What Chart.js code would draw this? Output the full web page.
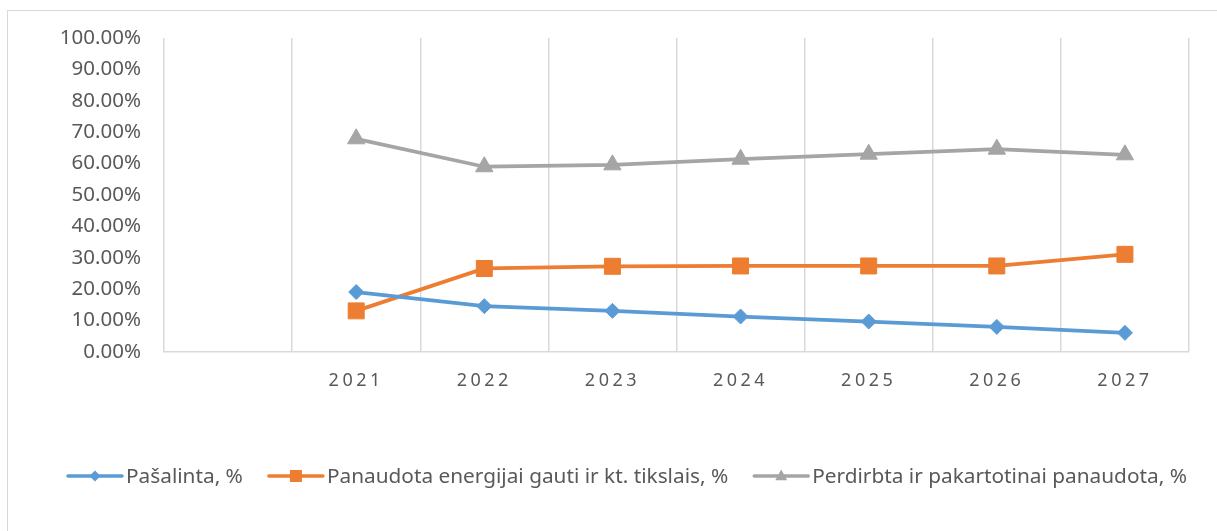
<!DOCTYPE html>
<html lang="lt">
<head>
    <meta charset="UTF-8">
    <title>Atliekų tvarkymas</title>
    <script src="https://cdn.jsdelivr.net/npm/chart.js"></script>
    <style>
        body {
            margin: 0;
            background: #ffffff;
        }
        .frame {
            position: absolute;
            left: 7px;
            top: 10px;
            width: 1230px;
            height: 540px;
            border-left: 1px solid #d9d9d9;
            border-top: 1px solid #d9d9d9;
        }
        #lineChart {
            position: absolute;
            left: 0;
            top: 0;
        }
    </style>
</head>
<body>
    <div class="frame"></div>
    <canvas id="lineChart" width="1217" height="531"></canvas>

    <script>
        // metai (first category is left empty, like in the original sheet)
        const years = ['', '2021', '2022', '2023', '2024', '2025', '2026', '2027'];

        // values in %
        const pasalinta = [null, 19.1, 14.6, 13.1, 11.3, 9.7, 8.0, 6.1];
        const panaudota = [null, 13.1, 26.6, 27.3, 27.4, 27.4, 27.4, 31.1];
        const perdirbta = [null, 67.9, 59.0, 59.6, 61.4, 63.0, 64.6, 62.8];

        const seriesNames = [
            'Pašalinta, %',
            'Panaudota energijai gauti ir kt. tikslais, %',
            'Perdirbta ir pakartotinai panaudota, %'
        ];

        const FONT = '"Noto Sans", sans-serif';
        const TEXT = '#595959';

        function series(label, data, color, style, radius) {
            return {
                label: label,
                data: data,
                borderColor: color,
                backgroundColor: color,
                borderWidth: 3.75,
                tension: 0,
                pointStyle: style,
                pointRadius: radius,
                pointBorderWidth: 1,
                pointBorderColor: color,
                pointBackgroundColor: color
            };
        }

        // small marker helper for the legend
        function marker(ctx, style, x, y, r) {
            ctx.beginPath();
            if (style === 'rectRot') {
                ctx.moveTo(x, y - r); ctx.lineTo(x + r, y); ctx.lineTo(x, y + r); ctx.lineTo(x - r, y);
            } else if (style === 'rect') {
                ctx.rect(x - r, y - r, 2 * r, 2 * r);
            } else {
                ctx.moveTo(x, y - r * 1.1); ctx.lineTo(x + r, y + r * 0.7); ctx.lineTo(x - r, y + r * 0.7);
            }
            ctx.closePath();
            ctx.fill();
        }

        const legendPlugin = {
            id: 'excelLegend',
            afterDraw(chart) {
                const ctx = chart.ctx;
                const y = 476;
                const sizes = [5.6, 6, 6];
                let x = 68;
                ctx.save();
                ctx.font = '20.8px ' + FONT;
                ctx.textBaseline = 'middle';
                chart.data.datasets.forEach((ds, i) => {
                    ctx.strokeStyle = ds.borderColor;
                    ctx.fillStyle = ds.borderColor;
                    ctx.lineWidth = 3.5;
                    ctx.lineCap = 'round';
                    ctx.beginPath();
                    ctx.moveTo(x, y);
                    ctx.lineTo(x + 54, y);
                    ctx.stroke();
                    marker(ctx, ds.pointStyle, x + 27, y, sizes[i]);
                    ctx.fillStyle = TEXT;
                    ctx.fillText(ds.label, x + 58, y + 1);
                    x += 58 + ctx.measureText(ds.label).width + 26;
                });
                ctx.restore();
            }
        };

        // spaced-out year labels on the category axis
        const spacedLabels = {
            id: 'spacedLabels',
            afterLayout(chart) {
                const xs = chart.scales.x;
                if (xs._spaced) return;
                const orig = xs.drawLabels;
                xs.drawLabels = function (area) {
                    chart.ctx.save();
                    chart.ctx.letterSpacing = '3.5px';
                    orig.call(this, area);
                    chart.ctx.restore();
                };
                xs._spaced = true;
            }
        };

        new Chart(document.getElementById('lineChart'), {
            type: 'line',
            data: {
                labels: years,
                datasets: [
                    series(seriesNames[0], pasalinta, '#5B9BD5', 'rectRot', 7.5),
                    series(seriesNames[1], panaudota, '#ED7D31', 'rect', 11.3),
                    series(seriesNames[2], perdirbta, '#A5A5A5', 'triangle', 10)
                ]
            },
            options: {
                responsive: false,
                animation: false,
                layout: { padding: { top: 38, right: 28, left: 0, bottom: 0 } },
                plugins: {
                    legend: { display: false },
                    tooltip: { enabled: false }
                },
                scales: {
                    x: {
                        offset: true,
                        grid: { offset: true, color: '#d9d9d9', lineWidth: 1.5, drawTicks: false },
                        border: { display: true, color: '#d9d9d9', width: 1.5 },
                        ticks: {
                            color: TEXT,
                            font: { family: FONT, size: 18 },
                            padding: 18,
                            maxRotation: 0
                        },
                        afterFit(s) { s.height = 179; }
                    },
                    y: {
                        min: 0,
                        max: 100,
                        grid: { display: false },
                        border: { display: false },
                        ticks: {
                            stepSize: 10,
                            color: TEXT,
                            font: { family: FONT, size: 20.5 },
                            padding: 15,
                            callback: v => v.toFixed(2) + '%'
                        },
                        afterFit(s) { s.width = 164; }
                    }
                }
            },
            plugins: [legendPlugin, spacedLabels]
        });
    </script>
</body>
</html>
